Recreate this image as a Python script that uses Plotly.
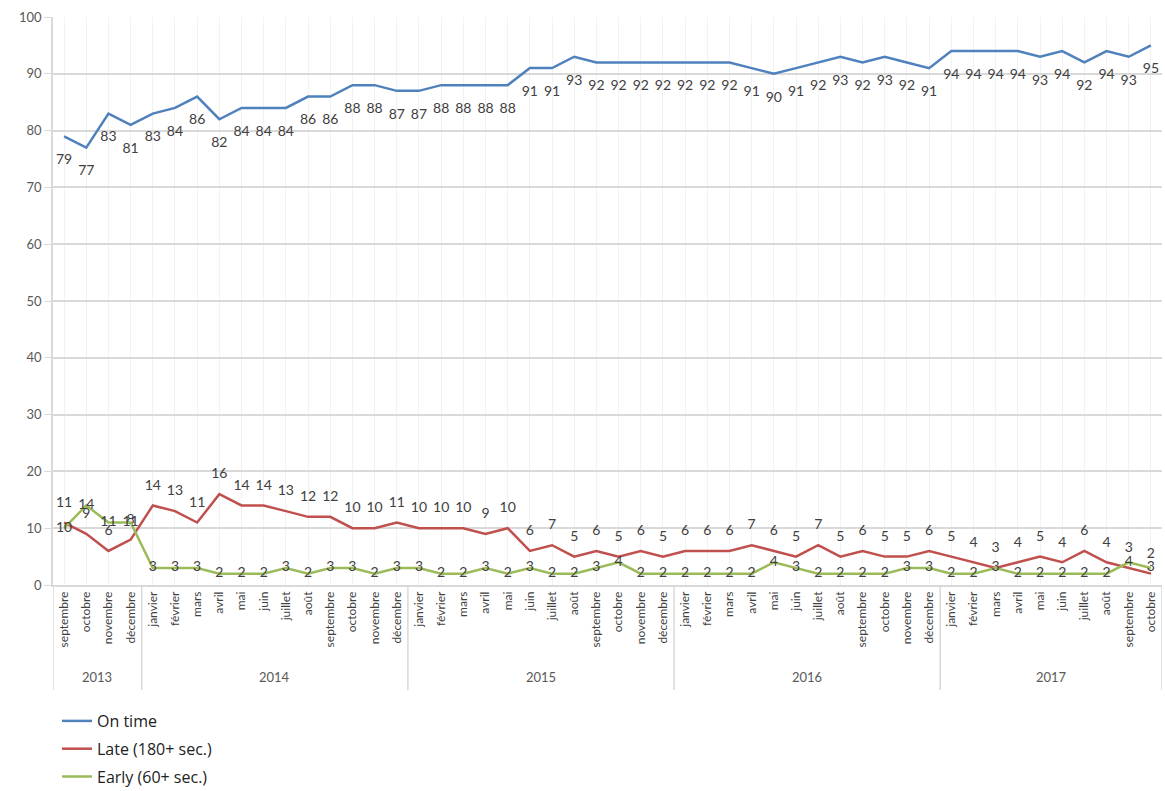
import plotly.graph_objects as go

# Month names (French) and the years covered by the series
months_fr = ["janvier", "février", "mars", "avril", "mai", "juin",
             "juillet", "août", "septembre", "octobre", "novembre", "décembre"]
years = ["2013", "2014", "2015", "2016", "2017"]
first_month_index = 8   # septembre 2013
last_month_index = 9    # octobre 2017

# Share of departures (%) per month, septembre 2013 -> octobre 2017
on_time = [79, 77, 83, 81,
           83, 84, 86, 82, 84, 84, 84, 86, 86, 88, 88, 87,
           87, 88, 88, 88, 88, 91, 91, 93, 92, 92, 92, 92,
           92, 92, 92, 91, 90, 91, 92, 93, 92, 93, 92, 91,
           94, 94, 94, 94, 93, 94, 92, 94, 93, 95]
late = [11, 9, 6, 8,
        14, 13, 11, 16, 14, 14, 13, 12, 12, 10, 10, 11,
        10, 10, 10, 9, 10, 6, 7, 5, 6, 5, 6, 5,
        6, 6, 6, 7, 6, 5, 7, 5, 6, 5, 5, 6,
        5, 4, 3, 4, 5, 4, 6, 4, 3, 2]
early = [10, 14, 11, 11,
         3, 3, 3, 2, 2, 2, 3, 2, 3, 3, 2, 3,
         3, 2, 2, 3, 2, 3, 2, 2, 3, 4, 2, 2,
         2, 2, 2, 2, 4, 3, 2, 2, 2, 2, 3, 3,
         2, 2, 3, 2, 2, 2, 2, 2, 4, 3]

# Build month labels and year groups (start index, count) along the x axis
month_labels, year_groups = [], []
for y in years:
    start = first_month_index if y == years[0] else 0
    stop = last_month_index + 1 if y == years[-1] else 12
    year_groups.append((y, len(month_labels), stop - start))
    month_labels.extend(months_fr[start:stop])
idx = list(range(len(month_labels)))

FONT = "Lato, 'Open Sans', sans-serif"
LABEL_COLOR = "#404040"
AXIS_COLOR = "#D9D9D9"
W, H = 1165, 791
M_L, M_R, M_T, M_B = 53, 3, 17, 206

# name, values, colour, label position, (invisible) marker size used to push labels off the line
series = [
    ("On time", on_time, "#4F81BD", "bottom center", 26),
    ("Late (180+ sec.)", late, "#C0504D", "top center", 18),
    ("Early (60+ sec.)", early, "#9BBB59", "middle center", 1),
]

fig = go.Figure()
for name, vals, color, pos, msize in series:
    fig.add_trace(go.Scatter(
        x=idx, y=vals, name=name, legendgroup=name,
        mode="lines+markers+text",
        line=dict(color=color, width=2.5),
        marker=dict(size=msize, color="rgba(0,0,0,0)"),
        text=[str(v) for v in vals],
        textposition=pos,
        textfont=dict(family=FONT, size=14, color=LABEL_COLOR),
        cliponaxis=False,
        hoverinfo="x+y+name",
    ))

# Year labels under the month labels, with dividers between the years
PLOT_H = H - M_T - M_B
axis_px = H - M_B
divider_bottom = -(690 - axis_px) / PLOT_H
year_label_y = -(677 - axis_px) / PLOT_H
for y, start, count in year_groups:
    fig.add_annotation(
        x=start + (count - 1) / 2, y=year_label_y, xref="x", yref="paper",
        text=y, showarrow=False, yanchor="middle",
        font=dict(family=FONT, size=13, color="#595959"),
    )
    fig.add_shape(type="line", xref="x", yref="paper",
                  x0=start - 0.5, x1=start - 0.5, y0=0, y1=divider_bottom,
                  line=dict(color=AXIS_COLOR, width=1.5))
fig.add_shape(type="line", xref="x", yref="paper",
              x0=len(idx) - 0.5, x1=len(idx) - 0.5, y0=0, y1=divider_bottom,
              line=dict(color=AXIS_COLOR, width=1.5))

fig.update_layout(
    width=W, height=H,
    margin=dict(l=M_L, r=M_R, t=M_T, b=M_B, autoexpand=False),
    paper_bgcolor="white", plot_bgcolor="white",
    font=dict(family=FONT, color=LABEL_COLOR),
    showlegend=True,
    legend=dict(
        xref="container", yref="container",
        x=57 / W, y=1 - 704 / H, xanchor="left", yanchor="top",
        orientation="v", tracegroupgap=4,
        font=dict(family="'Open Sans', sans-serif", size=16, color="#222222"),
        bgcolor="rgba(0,0,0,0)",
    ),
)

fig.update_xaxes(
    range=[-0.5, len(idx) - 0.5],
    tickmode="array", tickvals=idx, ticktext=month_labels,
    tickangle=-90,
    tickfont=dict(family=FONT, size=12, color=LABEL_COLOR),
    showgrid=True, gridcolor="#F2F2F2", gridwidth=1,
    showline=True, linecolor=AXIS_COLOR, linewidth=1.5,
    ticks="", zeroline=False, automargin=False,
)
fig.update_yaxes(
    range=[0, 100], dtick=10,
    tickfont=dict(family=FONT, size=13, color="#595959"),
    showgrid=True, gridcolor=AXIS_COLOR, gridwidth=1.5,
    showline=True, linecolor=AXIS_COLOR, linewidth=1.5,
    ticks="outside", ticklen=7, tickcolor=AXIS_COLOR,
    zeroline=False, automargin=False,
)

fig.write_html("out.html")
